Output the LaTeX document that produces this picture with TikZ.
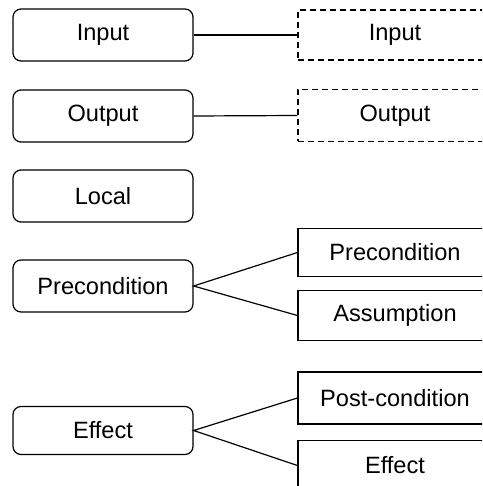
\documentclass[tikz,border=0pt]{standalone}
\usepackage{fontspec}
\setmainfont{Liberation Sans}
\begin{document}
\begin{tikzpicture}[x=0.5pt,y=-0.5pt,
    every node/.style={font=\fontsize{11.8}{14}\selectfont,
    inner sep=0pt,line width=0.6pt,draw=black},
    leftbox/.style={rounded corners=4pt,
    minimum width=90pt,minimum height=26pt},
    rightbox/.style={minimum width=97pt,minimum height=25pt},
    ghostbox/.style={rightbox,dash pattern=on 3pt off 2pt}]
    \clip (0,0) rectangle (482,486);
    % left column
    \node[leftbox] (input) at (103,35) {Input};
    \node[leftbox] (output) at (103,116) {Output};
    \node[leftbox] (local) at (103,196) {Local};
    \node[leftbox] (pre) at (103,286) {Precondition};
    \node[leftbox,minimum height=24pt] (effect) at (103,430.5) {Effect};
    % right column
    \node[ghostbox] (inputR) at (395,35) {Input};
    \node[ghostbox,minimum height=26pt] (outputR) at (395,115.5) {Output};
    \node[rightbox,minimum height=24pt] (preR) at (395,252.5) {Precondition};
    \node[rightbox] (assume) at (395,315.5) {Assumption};
    \node[rightbox,minimum height=26pt] (post) at (395,398) {Post-condition};
    \node[rightbox] (effectR) at (395,465.5) {Effect};
    % links
    \draw[line width=0.6pt] (input.east) -- (inputR.west);
    \draw[line width=0.6pt] (output.east) -- (outputR.west);
    \draw[line width=0.6pt] (preR.west) -- (pre.east) -- (assume.west);
    \draw[line width=0.6pt] (post.west) -- (effect.east) -- (effectR.west);
\end{tikzpicture}
\end{document}
